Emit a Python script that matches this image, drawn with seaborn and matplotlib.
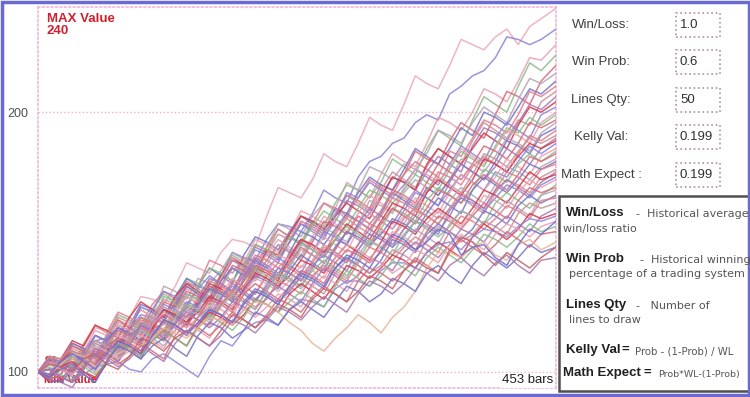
import pandas as pd
import numpy as np
import matplotlib.pyplot as plt
import seaborn as sns
from matplotlib.patches import Rectangle

# bar index of every point
bars = [0, 10, 20, 30, 40, 50, 60, 70, 80, 90, 100, 110, 120, 130, 140, 150,
        160, 170, 180, 190, 200, 210, 220, 230, 240, 250, 260, 270, 280, 290,
        300, 310, 320, 330, 340, 350, 360, 370, 380, 390, 400, 410, 420, 430,
        440, 453]

lines_a = [
    [100,105,104,102,110,117,116,114,121,129,128,126,133,142,140,138,146,151,150,148,160,171,169,167,174,184,181,179,188,198,195,193,203,214,211,209,218,228,226,224,229,232,226,233,236,240],
    [100,99,103,101,107,112,113,110,117,122,121,119,127,134,133,131,137,146,144,143,151,157,156,154,161,170,167,165,175,181,183,188,190,196,199,197,207,210,214,216,221,229,228,226,228,232],
    [100,98,102,110,108,106,111,120,118,124,121,119,128,134,131,129,138,135,142,151,149,146,153,162,160,157,163,173,170,167,176,184,181,179,188,198,196,193,200,209,207,204,212,221,220,226],
    [100,106,105,103,109,107,113,122,120,117,124,130,127,136,134,131,137,145,142,139,146,155,152,150,158,156,165,172,170,167,173,182,179,176,186,193,190,187,197,206,203,200,210,219,216,222],
    [100,97,99,106,104,102,110,118,116,121,118,115,125,133,130,127,133,131,140,149,147,144,150,158,156,153,160,168,166,163,172,170,176,185,182,180,189,196,193,190,199,208,206,203,212,218],
    [100,104,103,110,108,106,113,119,117,114,122,133,131,128,136,134,139,146,143,140,148,157,155,152,160,165,162,159,170,179,177,174,180,178,184,193,191,188,196,202,199,196,205,213,211,215],
    [100,98,101,99,106,114,112,110,118,126,124,121,129,136,133,140,137,134,145,152,150,147,154,160,157,154,163,161,169,175,172,170,178,186,183,180,186,194,191,200,198,195,202,209,207,212],
    [100,106,104,102,111,118,115,123,121,118,126,131,128,125,133,143,141,138,144,142,148,155,152,149,157,165,163,160,167,174,171,168,176,181,178,175,185,183,190,197,195,192,199,208,206,210],
    [100,97,103,109,107,104,110,117,115,112,121,119,127,135,132,129,136,143,140,137,146,153,151,160,158,155,161,168,165,162,170,177,174,171,179,186,183,180,189,196,193,190,197,195,204,208],
    [100,101,96,94,101,109,107,104,111,119,117,114,122,130,128,126,135,143,141,148,146,143,150,157,155,152,158,166,164,161,168,175,173,170,177,183,180,177,187,194,192,189,196,203,201,206],
]
lines_b = [
    [100,99,105,112,110,118,116,113,121,127,124,121,129,134,131,128,137,144,141,138,147,145,153,160,158,155,160,165,162,159,167,175,173,170,180,186,183,180,186,192,189,186,195,202,200,204],
    [100,104,102,100,106,114,112,109,117,115,124,131,129,126,132,137,134,131,139,147,145,142,150,157,154,151,160,169,167,173,170,167,172,178,175,172,180,187,184,181,190,196,193,190,199,202],
    [100,98,104,102,108,116,114,111,118,124,121,118,124,132,129,127,136,144,142,139,145,151,148,145,152,160,157,154,161,168,165,162,171,178,176,173,179,186,183,180,186,193,191,188,196,200],
    [100,103,101,105,103,100,109,116,114,111,120,129,127,124,133,140,138,135,141,149,147,144,152,149,156,162,159,156,163,170,168,165,170,176,173,170,178,185,182,179,187,194,192,198,195,199],
    [100,99,103,111,109,106,114,120,117,114,120,127,125,131,129,126,133,141,139,136,143,149,146,143,150,158,156,153,160,157,162,170,168,165,173,180,177,174,180,187,185,182,188,196,194,197],
    [100,101,98,96,102,109,107,104,113,121,119,116,124,129,126,123,132,140,138,135,141,149,147,144,151,156,153,150,157,166,164,161,169,174,171,168,174,182,180,177,183,190,188,185,192,196],
    [100,98,104,111,109,106,111,108,116,125,123,120,126,133,130,127,135,140,137,143,140,137,146,154,152,149,155,161,158,155,161,169,166,163,171,168,174,180,177,174,181,189,187,184,191,194],
    [100,103,102,100,106,112,110,107,114,120,118,115,123,121,129,135,133,130,138,145,143,140,145,151,148,145,154,160,158,155,160,167,165,162,169,177,175,172,179,183,180,177,184,191,189,193],
    [100,99,105,110,108,105,114,121,119,116,122,128,126,123,127,132,130,127,136,141,139,136,144,151,149,146,153,159,156,153,162,169,167,164,170,175,172,169,176,184,182,179,185,190,188,191],
    [100,103,101,99,106,114,112,117,115,112,117,124,121,118,128,136,134,131,137,144,141,138,143,150,147,144,151,149,157,163,160,157,164,170,167,164,173,180,177,174,179,186,183,180,186,190],
]
lines_c = [
    [100,96,97,102,100,98,104,112,110,107,116,124,122,119,127,134,132,129,133,140,138,135,144,151,149,146,151,157,154,151,158,165,163,160,169,174,171,168,174,182,180,177,183,188,186,189],
    [100,104,103,101,108,106,113,117,114,111,119,126,124,121,126,133,131,128,136,142,140,144,141,138,146,154,152,149,156,161,158,155,162,169,167,164,170,176,173,170,177,175,181,187,184,188],
    [100,98,102,106,104,101,109,118,116,113,120,125,122,129,127,124,130,136,133,130,138,145,143,140,146,152,149,146,155,161,158,155,160,167,164,161,169,176,173,170,175,182,179,176,183,186],
    [100,105,104,102,107,112,110,107,113,121,119,116,124,130,128,125,131,129,135,140,137,134,140,149,147,144,151,156,153,150,155,163,161,158,166,171,168,165,170,178,176,173,180,184,181,185],
    [100,97,99,107,105,103,111,116,114,111,117,122,120,117,125,133,131,128,135,141,139,136,142,148,145,142,147,154,151,148,157,163,160,157,163,170,168,165,172,176,173,170,176,183,181,184],
    [100,104,103,108,106,103,108,114,112,110,118,125,123,120,125,131,128,125,133,139,136,133,141,147,145,142,148,154,151,148,154,152,157,164,162,159,166,171,168,165,172,179,177,174,179,182],
    [100,98,101,107,105,103,112,117,115,112,118,124,121,118,126,132,130,127,131,137,135,132,139,145,142,139,148,154,152,149,153,159,157,154,161,167,164,161,170,175,172,169,174,180,178,181],
    [100,106,105,103,107,112,110,108,116,121,119,116,119,126,124,121,128,135,133,130,137,142,140,137,142,148,146,143,149,157,155,152,159,163,160,157,163,169,166,163,170,177,175,172,178,180],
    [100,99,102,100,103,109,107,105,112,118,116,114,121,126,124,121,126,132,130,127,134,140,138,135,143,149,146,143,147,153,151,148,155,162,160,157,163,167,164,161,169,174,172,169,175,178],
    [100,101,98,96,103,111,109,106,113,118,115,112,118,125,123,120,128,134,131,128,132,138,136,133,140,147,145,142,149,155,152,149,155,160,157,154,160,168,166,163,170,174,171,168,173,177],
]
lines_d = [
    [100,98,104,108,106,103,108,113,111,108,117,124,122,119,123,129,127,124,132,138,136,133,137,143,141,138,144,149,146,143,150,158,156,153,159,163,160,157,163,170,168,165,171,177,174,176],
    [100,105,103,101,108,114,112,109,113,118,116,113,119,127,125,122,129,133,130,127,133,140,138,135,141,145,142,139,147,153,151,148,152,158,156,153,162,167,165,162,167,172,170,167,172,175],
    [100,98,101,105,103,100,106,114,112,110,118,123,120,117,121,127,124,121,130,136,134,131,135,141,139,136,144,149,147,144,148,154,152,149,157,162,159,156,161,168,166,163,169,174,171,174],
    [100,102,99,97,102,110,108,105,111,116,114,112,121,126,124,121,126,130,127,124,131,138,136,133,139,143,140,137,143,150,148,145,153,158,155,152,156,162,160,157,165,169,166,163,168,172],
    [100,99,104,110,108,105,110,113,110,107,114,120,118,115,121,128,126,123,130,134,131,128,133,139,137,134,142,147,145,142,146,152,150,147,154,160,158,155,160,165,162,159,166,171,169,171],
    [100,104,102,100,105,112,110,107,113,116,113,110,116,124,122,119,125,130,127,124,132,137,135,132,136,142,139,136,145,151,148,145,149,155,152,149,157,162,160,157,161,166,163,160,168,170],
    [100,97,96,101,99,96,104,110,108,105,114,119,117,114,119,124,122,119,127,132,130,127,131,137,135,132,140,144,141,138,143,151,149,146,153,157,154,151,155,162,160,157,164,168,165,168],
    [100,104,103,101,105,109,107,105,112,117,115,112,116,122,120,118,126,131,128,125,128,135,133,130,137,141,138,135,142,148,146,143,148,152,149,146,154,160,158,155,159,164,162,159,166,167],
    [100,98,101,108,106,103,111,115,113,110,113,119,117,114,121,125,122,119,124,131,129,126,132,136,133,130,138,143,141,138,141,147,145,142,151,156,154,150,153,158,156,153,161,165,163,165],
    [100,105,104,101,104,109,107,104,110,118,116,113,119,123,120,117,121,127,125,122,129,133,130,127,134,140,137,134,137,144,142,139,146,150,147,144,149,155,153,150,156,160,157,154,160,163],
]
lines_e = [
    [100,98,102,104,100,97,103,111,109,106,112,116,113,110,118,123,121,118,122,128,126,123,130,134,131,128,134,141,139,136,140,145,143,140,146,150,147,144,152,157,154,151,155,161,159,161],
    [100,101,102,98,99,102,103,104,101,100,105,107,104,101,98,106,112,110,116,119,120,118,124,128,127,125,132,135,135,133,139,142,142,140,146,149,150,147,152,155,154,152,156,159,158,160],
    [100,103,101,99,104,110,108,105,108,114,112,109,116,119,116,113,120,126,124,121,125,130,128,125,133,137,134,131,138,144,142,138,141,147,145,142,149,153,150,147,153,157,155,152,156,158],
    [100,99,103,106,102,99,104,111,109,106,112,116,113,110,117,122,119,116,121,128,126,123,127,131,128,125,133,139,136,133,137,143,140,137,144,148,145,142,147,153,151,148,152,157,154,156],
    [100,101,98,96,102,108,106,103,106,111,108,105,114,119,117,114,118,123,120,117,122,128,126,123,129,133,130,127,135,140,138,135,139,144,141,138,146,151,148,145,149,154,151,148,153,154],
    [100,99,103,107,106,102,104,107,109,110,113,117,115,113,117,121,120,118,124,127,126,123,119,116,111,108,113,117,122,119,115,121,125,131,140,146,146,144,148,150,145,143,149,151,147,150],
    [100,98,101,103,99,96,104,110,108,105,110,113,109,106,114,119,117,113,116,123,121,118,124,127,124,121,127,133,131,127,130,136,134,131,138,141,137,134,141,146,143,140,144,149,146,148],
    [100,103,102,100,105,107,103,101,106,113,111,108,113,116,113,110,116,122,120,117,121,126,124,121,128,132,130,127,131,137,135,132,139,143,140,138,147,152,150,145,141,146,143,140,144,148],
    [100,99,104,107,104,101,107,112,110,107,114,120,118,115,119,124,122,119,126,131,129,126,133,138,136,133,140,145,143,140,147,153,151,147,150,155,153,145,148,149,144,141,149,155,153,158],
    [100,101,98,96,101,107,105,102,105,110,107,104,111,116,113,110,114,120,118,115,120,125,123,120,125,129,126,123,130,135,133,130,134,140,138,135,141,144,140,137,142,145,141,138,143,144],
]

all_lines = lines_a + lines_b + lines_c + lines_d + lines_e

labels = ['Win/Loss:', 'Win Prob:', 'Lines Qty:', 'Kelly Val:', 'Math Expect :']
values = ['1.0', '0.6', '50', '0.199', '0.199']
max_val = 240
min_val = 94
n_bars = 453

rows = []
for i, ys in enumerate(all_lines):
    for b, y in zip(bars, ys):
        rows.append((i, b, y))
df = pd.DataFrame(rows, columns=['line', 'bar', 'value'])

colors = ['#d03848', '#8a84d4', '#e8a0b0', '#8cbc8c', '#d86878', '#b4a4b4',
          '#7474c4', '#e07c88', '#c89098', '#a878b0']
palette = [colors[i % len(colors)] for i in range(len(all_lines))]
palette[0] = '#eaa8bc'
palette[41] = '#8c88d8'
palette[45] = '#e8b498'
palette[47] = '#c06468'
palette[48] = '#6c6cd0'

sns.set_style('white')
plt.rcParams['font.family'] = ['Liberation Sans', 'DejaVu Sans']

fig = plt.figure(figsize=(7.5, 3.97), dpi=100)
ax = fig.add_axes([38 / 750, 9 / 397, 518 / 750, 381 / 397])

sns.lineplot(data=df, x='bar', y='value', hue='line', palette=palette,
             legend=False, linewidth=1.1, alpha=0.85, ax=ax, zorder=3)

ax.set_xlim(0, n_bars)
ax.set_ylim(93.8, 240.5)
ax.set_xticks([])
ax.set_yticks([100, 200])
ax.set_yticklabels(['100', '200'], color='#505050', fontsize=9)
ax.tick_params(axis='y', length=0, pad=7)
ax.set_xlabel('')
ax.set_ylabel('')
for y in [100, 200]:
    ax.axhline(y, color='#f0b0d0', lw=1, ls=':', zorder=1)
for s in ax.spines.values():
    s.set_color('#f0b8d8')
    s.set_linestyle(':')
    s.set_linewidth(1.2)

ax.text(0.017, 0.985, f'MAX Value\n{max_val}', transform=ax.transAxes, ha='left', va='top',
        color='#d02030', fontsize=9.5, fontweight='bold', linespacing=1.05)
ax.text(0.012, 0.07, f'{min_val}', transform=ax.transAxes, ha='left', va='center',
        color='#d02030', fontsize=8, fontweight='bold', zorder=2)
ax.text(0.012, 0.02, 'MIN Value', transform=ax.transAxes, ha='left', va='center',
        color='#d02030', fontsize=8, fontweight='bold', zorder=2)
ax.text(0.995, 0.005, f'{n_bars} bars', transform=ax.transAxes, ha='right', va='bottom',
        color='#202020', fontsize=9.5, zorder=5,
        bbox=dict(facecolor='white', edgecolor='none', pad=1))

# right panel: inputs
row_y = [25, 62, 100, 137, 175]
for lab, val, yp in zip(labels, values, row_y):
    fy = 1 - yp / 397
    fig.text(601 / 750, fy, lab, ha='center', va='center', fontsize=9.5, color='#404040')
    fig.patches.append(Rectangle((676 / 750, fy - 12 / 397), 44 / 750, 24 / 397,
                                 transform=fig.transFigure, fill=False,
                                 edgecolor='#b09098', lw=1.2, ls=':'))
    fig.text(680 / 750, fy, val, ha='left', va='center', fontsize=9.5, color='#303030')

# right panel: legend box
fig.patches.append(Rectangle((559 / 750, 1 - 391 / 397), 190 / 750, 195 / 397,
                             transform=fig.transFigure, fill=False,
                             edgecolor='#505050', lw=1.8))


def fy(p):
    return 1 - p / 397


small = dict(color='#555555', va='center', family=['DejaVu Sans'])
big = dict(fontsize=9.5, fontweight='bold', color='#202020', va='center')
fig.text(566 / 750, fy(213), 'Win/Loss', **big)
fig.text(636 / 750, fy(214), '-  Historical average', fontsize=8, **small)
fig.text(563 / 750, fy(229), 'win/loss ratio', fontsize=8, **small)
fig.text(566 / 750, fy(259), 'Win Prob', **big)
fig.text(640 / 750, fy(260), '-  Historical winning', fontsize=8, **small)
fig.text(569 / 750, fy(274), 'percentage of a trading system', fontsize=8, **small)
fig.text(566 / 750, fy(305), 'Lines Qty', **big)
fig.text(636 / 750, fy(306), '-   Number of', fontsize=8, **small)
fig.text(569 / 750, fy(320), 'lines to draw', fontsize=8, **small)
fig.text(566 / 750, fy(350), 'Kelly Val', **big)
fig.text(622 / 750, fy(350), '=', **big)
fig.text(635 / 750, fy(351), 'Prob - (1-Prob) / WL', fontsize=7.3, **small)
fig.text(563 / 750, fy(373), 'Math Expect', **big)
fig.text(643 / 750, fy(373), '=', **big)
fig.text(658 / 750, fy(374), 'Prob*WL-(1-Prob)', fontsize=6.8, **small)

# outer frame
fig.patches.append(Rectangle((0.002, 0.004), 0.996, 0.992, transform=fig.transFigure,
                             fill=False, edgecolor='#6a6ad0', lw=2.5))

fig.savefig('out.png', dpi=100)
